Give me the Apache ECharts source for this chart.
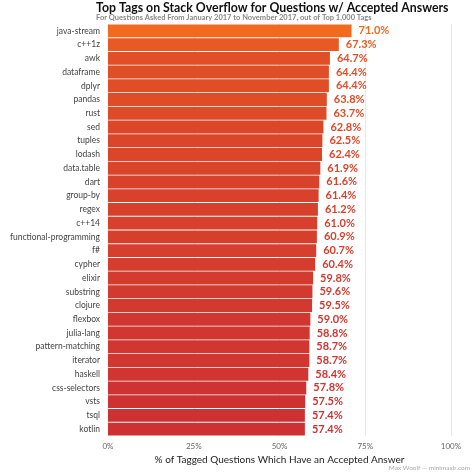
<!DOCTYPE html>
<html><head><meta charset="utf-8">
<script src="https://cdn.jsdelivr.net/npm/echarts@6/dist/echarts.min.js"></script>
<style>html,body{margin:0;padding:0;background:#fff}#c{width:474px;height:474px}</style>
</head><body><div id="c"></div>
<script>
var tags = ['java-stream','c++1z','awk','dataframe','dplyr','pandas','rust','sed','tuples','lodash','data.table','dart','group-by','regex','c++14','functional-programming','f#','cypher','elixir','substring','clojure','flexbox','julia-lang','pattern-matching','iterator','haskell','css-selectors','vsts','tsql','kotlin'];
var pct = [71.0,67.3,64.7,64.4,64.4,63.8,63.7,62.8,62.5,62.4,61.9,61.6,61.4,61.2,61.0,60.9,60.7,60.4,59.8,59.6,59.5,59.0,58.8,58.7,58.7,58.4,57.8,57.5,57.4,57.4];
var ticks = [0,25,50,75,100];

var chart = echarts.init(document.getElementById('c'));
var font = 'Lato, "Open Sans", sans-serif';
chart.setOption({
  animation: false,
  title: {
    text: 'Top Tags on Stack Overflow for Questions w/ Accepted Answers',
    subtext: 'For Questions Asked From January 2017 to November 2017, out of Top 1,000 Tags',
    left: 91, top: -3, itemGap: 0,
    textStyle: {fontFamily: font, fontSize: 12.3, fontWeight: 'bold', color: '#111'},
    subtextStyle: {fontFamily: font, fontSize: 7.5, color: '#888', fontWeight: 'bold'}
  },
  graphic: [{type: 'text', right: 4, top: 464,
    style: {text: 'Max Woolf — minimaxir.com', fill: '#aaa', font: '6.5px ' + font}}],
  grid: {left: 108, right: 23, top: 24, bottom: 38},
  visualMap: {show: false, dimension: 0, min: 57, max: 71,
    inRange: {color: ['#cc2f33', '#f26a1d']}},
  xAxis: {
    type: 'value', min: 0, max: 100, interval: 25,
    name: '% of Tagged Questions Which Have an Accepted Answer',
    nameLocation: 'middle', nameGap: 11,
    nameTextStyle: {fontFamily: font, fontSize: 10, color: '#222'},
    axisLabel: {formatter: '{value}%', fontFamily: font, fontSize: 8, color: '#666', margin: 6},
    axisLine: {show: false}, axisTick: {show: false},
    splitLine: {lineStyle: {color: '#e8e8e8'}}
  },
  yAxis: {
    type: 'category', data: tags, inverse: true,
    axisLabel: {fontFamily: font, fontSize: 8.5, color: '#444', margin: 8},
    axisLine: {show: false}, axisTick: {show: false},
    splitLine: {show: false}
  },
  series: [{
    type: 'bar', data: pct, barCategoryGap: '6%',
    label: {show: true, position: 'right', distance: 7, formatter: function (p) { return p.value.toFixed(1) + '%'; },
      fontFamily: font, fontSize: 11, fontWeight: 'bold', color: 'inherit'}
  }]
});
</script></body></html>
